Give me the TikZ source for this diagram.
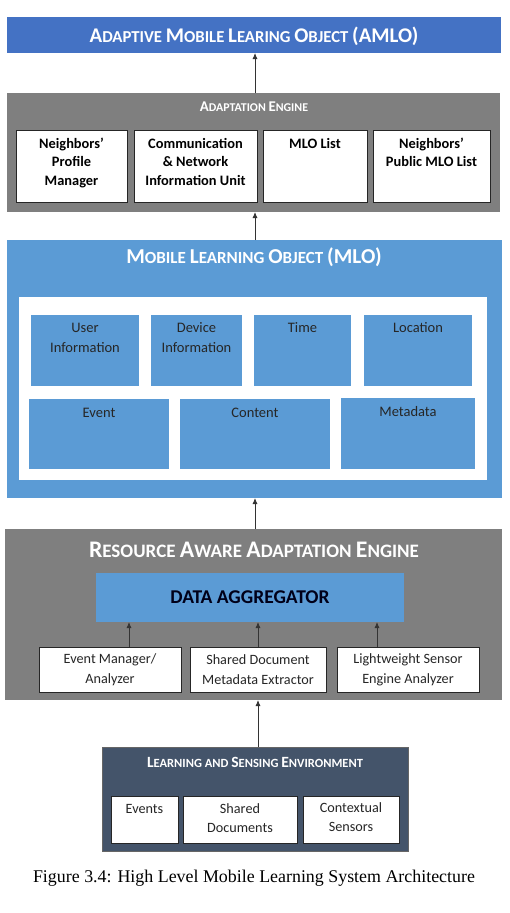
\documentclass[tikz,border=0pt]{standalone}
\usepackage{fontspec}
\setmainfont{Carlito}
\newfontfamily\capfont{Liberation Serif}
\usetikzlibrary{arrows.meta}
\definecolor{amloblue}{HTML}{4472C4}
\definecolor{engray}{HTML}{7F7F7F}
\definecolor{mloblue}{HTML}{5B9BD5}
\definecolor{lseslate}{HTML}{44546A}
\definecolor{txtdark}{HTML}{262626}
% fake small caps: enlarge first letter
\newcommand{\bc}[1]{{\fontsize{\the\dimexpr1.25\fontdimen6\font\relax}{10pt}\selectfont #1}}
% top-aligned box content: width, height, pad, text
\newcommand{\tb}[4]{\parbox[c][#2][t]{#1}{\vspace*{#3}\centering\strut #4\par}}
\begin{document}
\begin{tikzpicture}[x=1pt,y=-1pt,
  plain/.style={inner sep=0pt, outer sep=0pt},
  wbox/.style={plain, fill=white, draw=black!85, line width=0.8pt},
  ibox/.style={plain, fill=mloblue},
  ttl/.style={plain, text=white, font=\bfseries},
  arr/.style={draw=black!80, line width=0.8pt, -{Latex[length=6pt,width=5pt]}},
  btxt/.style={font=\fontsize{14.4}{18.5}\selectfont\bfseries, text=black},
  mtxt/.style={font=\fontsize{14.5}{20}\selectfont, text=txtdark},
  rtxt/.style={font=\fontsize{14.2}{20}\selectfont, text=txtdark, align=center},
  ltxt/.style={font=\fontsize{14.2}{19}\selectfont, text=txtdark}
]
\useasboundingbox (0,0) rectangle (510,913);
\fill[white] (0,0) rectangle (510,913);

% AMLO
\node[plain, fill=amloblue, minimum width=494, minimum height=36] (amlo) at (254,35) {};
\node[ttl, font=\fontsize{16.7}{18}\selectfont\bfseries] (amlot) at (254,36)
  {\bc{A}DAPTIVE \bc{M}OBILE \bc{L}EARING \bc{O}BJECT \bc{(AMLO)}};

% Adaptation engine
\node[plain, fill=engray, minimum width=493, minimum height=119] (ae) at (253.5,152.5) {};
\node[ttl, font=\fontsize{11.9}{13}\selectfont\bfseries] (aet) at (254,107) {\bc{A}DAPTATION \bc{E}NGINE};
\node[wbox, btxt] (ae1) at (71.5,166) {\tb{111pt}{72pt}{5.5pt}{Neighbors'\\Profile\\Manager}};
\node[wbox, btxt] (ae2) at (195.5,166) {\tb{123pt}{72pt}{5.5pt}{Communication\\\& Network\\Information Unit}};
\node[wbox, btxt] (ae3) at (315,166) {\tb{104pt}{72pt}{5.5pt}{MLO List}};
\node[wbox, btxt] (ae4) at (431.5,166) {\tb{117pt}{72pt}{5.5pt}{Neighbors'\\Public MLO List}};

% MLO
\node[plain, fill=mloblue, minimum width=495, minimum height=258] (mlo) at (254.5,369) {};
\node[ttl, font=\fontsize{17}{19}\selectfont\bfseries] (mlot) at (254,257) {\bc{M}OBILE \bc{L}EARNING \bc{O}BJECT \bc{(MLO)}};
\node[plain, fill=white, minimum width=468, minimum height=183] (mlow) at (253,388.5) {};
\node[ibox, mtxt] (m1) at (85,350.5) {\tb{108pt}{71pt}{3.5pt}{User\\Information}};
\node[ibox, mtxt] (m2) at (196.5,350.5) {\tb{91pt}{71pt}{3.5pt}{Device\\Information}};
\node[ibox, mtxt] (m3) at (302.5,350.5) {\tb{97pt}{71pt}{3.5pt}{Time}};
\node[ibox, mtxt] (m4) at (418,350.5) {\tb{108pt}{71pt}{3.5pt}{Location}};
\node[ibox, mtxt] (m5) at (99,434) {\tb{140pt}{70pt}{4.5pt}{Event}};
\node[ibox, mtxt] (m6) at (255,434) {\tb{150pt}{70pt}{4.5pt}{Content}};
\node[ibox, mtxt] (m7) at (408,433.5) {\tb{134pt}{71pt}{4pt}{Metadata}};

% Resource aware adaptation engine
\node[plain, fill=engray, minimum width=497, minimum height=171] (ra) at (253.5,614.5) {};
\node[ttl, font=\fontsize{19}{21}\selectfont\bfseries] (rat) at (254,550) {\bc{R}ESOURCE \bc{A}WARE \bc{A}DAPTATION \bc{E}NGINE};
\node[plain, fill=mloblue, minimum width=308, minimum height=49, font=\fontsize{19.5}{22}\selectfont\bfseries, text=black!90!blue] (ag) at (250,597.5) {DATA AGGREGATOR};
\node[wbox, rtxt, minimum width=142, minimum height=45] (r1) at (110,669.5) {Event Manager/\\Analyzer};
\node[wbox, rtxt, minimum width=136, minimum height=45] (r2) at (258,669.5) {Shared Document\\Metadata Extractor};
\node[wbox, rtxt, minimum width=142, minimum height=45] (r3) at (408,669.5) {Lightweight Sensor\\Engine Analyzer};

% Learning and sensing environment
\node[plain, fill=lseslate, draw=black!60, line width=0.6pt, minimum width=306, minimum height=104] (lse) at (255,799) {};
\node[ttl, font=\fontsize{12.5}{14}\selectfont\bfseries] (lset) at (255,762) {\bc{L}EARNING AND \bc{S}ENSING \bc{E}NVIRONMENT};
\node[wbox, ltxt] (l1) at (144.5,819.5) {\tb{67pt}{47pt}{4.2pt}{Events}};
\node[wbox, ltxt] (l2) at (240,819.5) {\tb{114pt}{47pt}{4.2pt}{Shared\\Documents}};
\node[wbox, ltxt] (l3) at (351,819.5) {\tb{96pt}{47pt}{3.5pt}{Contextual\\Sensors}};

% caption
\node[plain, font=\capfont\fontsize{17.9}{20}\selectfont] (cap) at (254,878) {Figure 3.4: High Level Mobile Learning System Architecture};

% connectors
\draw[arr] ([xshift=1.5pt]ae.north) -- ([xshift=1.5pt]ae.north |- amlo.south);
\draw[arr] ([xshift=0.5pt]mlo.north) -- ([xshift=0.5pt]mlo.north |- ae.south);
\draw[arr] ([xshift=1.5pt]ra.north) -- ([xshift=1.5pt]ra.north |- mlo.south);
\draw[arr] ([xshift=3pt]lse.north) -- ([xshift=3pt]lse.north |- ra.south);
\draw[arr] ([xshift=19pt]r1.north) -- ([xshift=19pt]r1.north |- ag.south);
\draw[arr] (r2.north) -- (r2.north |- ag.south);
\draw[arr] ([xshift=-31pt]r3.north) -- ([xshift=-31pt]r3.north |- ag.south);
\end{tikzpicture}
\end{document}
